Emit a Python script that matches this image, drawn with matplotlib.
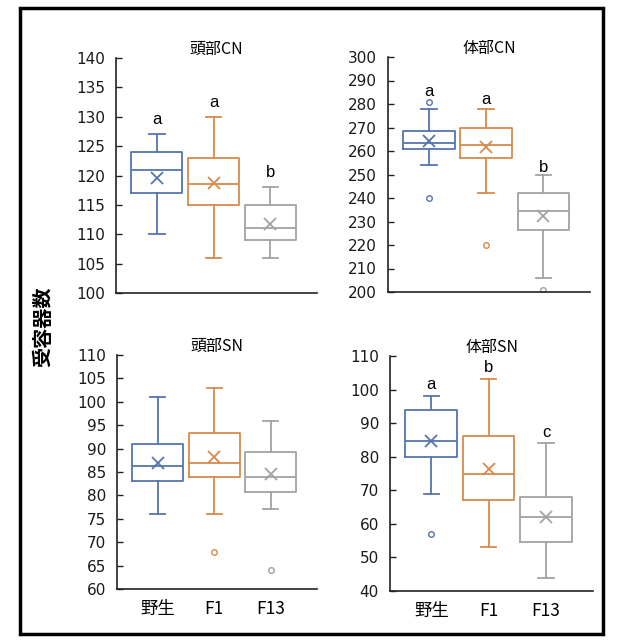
import matplotlib
matplotlib.use("Agg")
import matplotlib.pyplot as plt
from matplotlib.patches import Rectangle

plt.rcParams['font.family'] = ['DejaVu Sans', 'Noto Sans CJK JP']

groups = ["野生", "F1", "F13"]
colors = ["#5575AE", "#D98A4C", "#A3A3A3"]

titles = ["頭部CN", "体部CN", "頭部SN", "体部SN"]
ylims = [(100, 140), (200, 300), (60, 110), (40, 110)]
ysteps = [5, 10, 5, 10]

# per panel: values for 野生, F1, F13
whishi = [[127, 130, 118], [278, 278, 250], [101, 103, 96], [98, 103, 84]]
q3 = [[124, 123, 115], [268.3, 269.6, 242], [91, 93.3, 89.2], [93.8, 86.2, 68]]
medians = [[121, 118.6, 111], [263.6, 262.4, 234.6], [86.2, 87, 84], [84.6, 74.8, 62]]
q1 = [[117, 115, 109], [261, 257, 226.5], [83, 84, 80.7], [80, 67.2, 54.7]]
whislo = [[110, 106, 106], [254, 242, 206], [76, 76, 77], [68.8, 53, 44]]
means = [[119.6, 118.8, 111.7], [264.3, 261.5, 232.4], [86.9, 88.1, 84.6], [84.7, 76.3, 61.9]]
outliers = [[[], [], []], [[281, 240], [220], [201]], [[], [68], [64]], [[57], [], []]]
letters = [["a", "a", "b"], ["a", "a", "b"], ["", "", ""], ["a", "b", "c"]]
letter_y = [[129.5, 132.5, 120.5], [285.5, 282, 253], [0, 0, 0], [101.5, 106.5, 87.3]]

fig = plt.figure(figsize=(6.2, 6.44), dpi=100)
W, H = 620, 644
rects = [(116, 58, 317, 293), (388, 57, 590, 292), (117, 355, 317, 589), (390, 356, 593, 591)]

for i in range(4):
    l, t, r, b = rects[i]
    ax = fig.add_axes([l / W, 1 - b / H, (r - l) / W, (b - t) / H])
    for g in range(3):
        c = colors[g]
        st = dict(med=medians[i][g], q1=q1[i][g], q3=q3[i][g],
                  whislo=whislo[i][g], whishi=whishi[i][g],
                  fliers=outliers[i][g], mean=means[i][g], label=groups[g])
        ax.bxp([st], positions=[g + 1], widths=0.9, showmeans=True,
               capwidths=0.27, patch_artist=False,
               boxprops=dict(color=c, linewidth=1.3),
               medianprops=dict(color=c, linewidth=1.3),
               whiskerprops=dict(color=c, linewidth=1.3),
               capprops=dict(color=c, linewidth=1.3),
               flierprops=dict(marker='o', markersize=4, markerfacecolor='white',
                               markeredgecolor=c, markeredgewidth=1.0),
               meanprops=dict(marker='x', markersize=8, markeredgecolor=c,
                              markeredgewidth=1.3))
        if letters[i][g]:
            ax.text(g + 1, letter_y[i][g], letters[i][g], ha='center', va='center',
                    fontsize=12, family=['Liberation Sans'])
    ax.set_xlim(0.28, 3.82)
    ax.set_ylim(*ylims[i])
    ticks = list(range(ylims[i][0], ylims[i][1] + 1, ysteps[i]))
    ax.set_yticks(ticks)
    ax.set_yticklabels([str(v) for v in ticks], fontsize=11, color='#1a1a1a',
                       family=['DejaVu Sans'])
    ax.tick_params(axis='y', direction='in', length=4, width=1, pad=8, color='#222222')
    ax.spines['top'].set_visible(False)
    ax.spines['right'].set_visible(False)
    for s in ('left', 'bottom'):
        ax.spines[s].set_color('#222222')
        ax.spines[s].set_linewidth(1.2)
    if i >= 2:
        ax.set_xticks([1, 2, 3])
        ax.set_xticklabels(groups, fontsize=12.5, family=['Noto Sans CJK JP'])
        ax.tick_params(axis='x', length=0, pad=8)
    else:
        ax.set_xticks([])
    ax.set_title(titles[i], fontsize=11.5, family=['Noto Sans CJK JP'], pad=3)

fig.text(43 / W, 1 - 327 / H, "受容器数", rotation=90, ha='center', va='center',
         fontsize=14.5, fontweight='bold', family=['Noto Sans CJK JP'])

border = Rectangle((20 / W, 1 - 634 / H), (603 - 20) / W, (634 - 8) / H,
                   transform=fig.transFigure, fill=False, edgecolor='black',
                   linewidth=2.5)
fig.patches.append(border)

fig.savefig("out.png", dpi=100)
